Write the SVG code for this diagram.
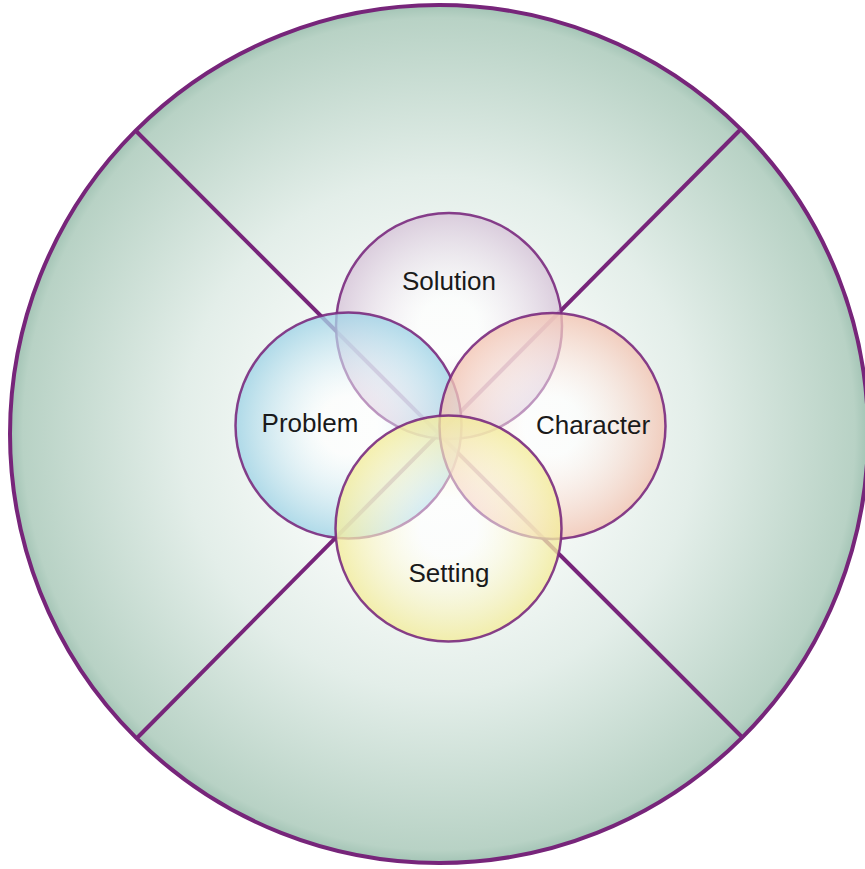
<svg xmlns="http://www.w3.org/2000/svg" width="865" height="869" viewBox="0 0 865 869">
<defs>
<radialGradient id="gBig" cx="0.5" cy="0.5" r="0.5">
<stop offset="0" stop-color="#ffffff"/>
<stop offset="0.3" stop-color="#f8fbf9"/>
<stop offset="0.6" stop-color="#e3eee9"/>
<stop offset="0.97" stop-color="#b8d2c5"/>
<stop offset="1" stop-color="#a3c4b5"/>
</radialGradient>
<radialGradient id="gSol" cx="0.5" cy="0.5" r="0.5">
<stop offset="0.25" stop-color="#ffffff" stop-opacity="0.45"/>
<stop offset="1" stop-color="#d6c3d8" stop-opacity="0.8"/>
</radialGradient>
<radialGradient id="gProb" cx="0.5" cy="0.5" r="0.5">
<stop offset="0.25" stop-color="#ffffff" stop-opacity="0.45"/>
<stop offset="1" stop-color="#9fd3e6" stop-opacity="0.8"/>
</radialGradient>
<radialGradient id="gChar" cx="0.5" cy="0.5" r="0.5">
<stop offset="0.25" stop-color="#ffffff" stop-opacity="0.45"/>
<stop offset="1" stop-color="#f3c4b2" stop-opacity="0.8"/>
</radialGradient>
<radialGradient id="gSet" cx="0.5" cy="0.5" r="0.5">
<stop offset="0.25" stop-color="#ffffff" stop-opacity="0.45"/>
<stop offset="1" stop-color="#f3ec9a" stop-opacity="0.8"/>
</radialGradient>
</defs>
<style>
.big{stroke:#77257a;stroke-width:4}
.ln{stroke:#77257a;stroke-width:4;fill:none}
.sm{stroke:#7a2a7e;stroke-width:2.5;stroke-opacity:0.9}
.lbl{font-family:"Liberation Sans",Arial,sans-serif;font-size:26px;fill:#1a1a1a;text-anchor:middle}
</style>
<g id="outer">
<circle class="big" cx="439" cy="434" r="429" fill="url(#gBig)"/>
</g>
<g id="connectors">
<line class="ln" x1="135" y1="130" x2="743" y2="738"/>
<line class="ln" x1="741" y1="129" x2="137" y2="738"/>
</g>
<g id="solution">
<circle class="sm" cx="449" cy="326" r="113" fill="url(#gSol)"/>
<text class="lbl" x="449" y="290">Solution</text>
</g>
<g id="problem">
<circle class="sm" cx="348.5" cy="425.5" r="113" fill="url(#gProb)"/>
<text class="lbl" x="310" y="432">Problem</text>
</g>
<g id="character">
<circle class="sm" cx="552.5" cy="426" r="113" fill="url(#gChar)"/>
<text class="lbl" x="593" y="434">Character</text>
</g>
<g id="setting">
<circle class="sm" cx="448.5" cy="528.5" r="113" fill="url(#gSet)"/>
<text class="lbl" x="449" y="582">Setting</text>
</g>
</svg>
